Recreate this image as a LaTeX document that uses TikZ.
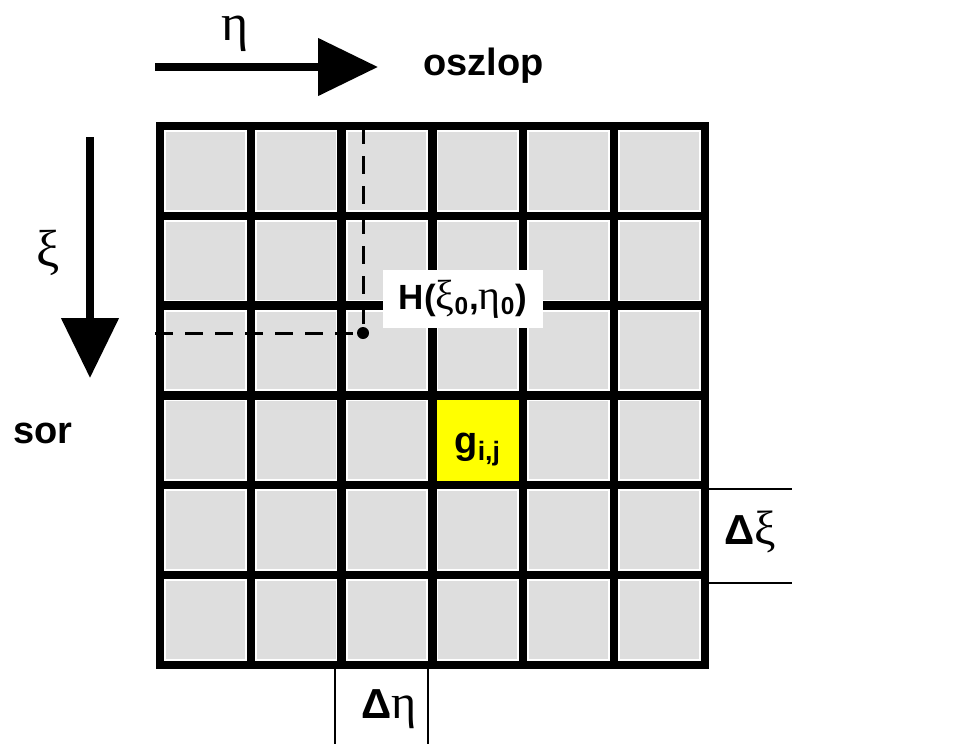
\documentclass[tikz,border=0pt]{standalone}
\usepackage{fontspec}
\setsansfont{Liberation Sans}
\newfontfamily\greekfont{Liberation Serif}
\usetikzlibrary{arrows.meta,positioning}
\definecolor{cellgray}{RGB}{222,222,222}
\definecolor{cellyellow}{RGB}{255,255,0}
\tikzset{x=0.5pt,y=-0.5pt,
  gridline/.style={line width=4.2pt,line cap=rect},
  dimline/.style={line width=0.8pt},
  axisarrow/.style={line width=4pt,-{Triangle[length=30pt,width=28pt]}},
  helpline/.style={line width=1.5pt,dash pattern=on 9pt off 6pt},
  boldlabel/.style={font=\fontsize{19}{22}\selectfont\sffamily\bfseries,inner sep=0pt},
  greeklabel/.style={font=\fontsize{26}{28}\selectfont\greekfont,inner sep=0pt},
  dimlabel/.style={font=\fontsize{21}{24}\selectfont\sffamily\bfseries,inner sep=0pt}}

\begin{document}
\begin{tikzpicture}
    \useasboundingbox (0,0) rectangle (963,744);
    % cells
    \foreach \i in {0,...,5}
      \foreach \j in {0,...,5}
        \fill[cellgray] ({160+90.8*\i+6},{126+89.8*\j+6}) rectangle ({160+90.8*(\i+1)-6},{126+89.8*(\j+1)-6});
    \fill[cellyellow] ({160+90.8*3},{126+89.8*3}) rectangle ({160+90.8*4},{126+89.8*4});
    \node[font=\fontsize{19}{22}\selectfont\sffamily\bfseries,inner sep=0pt] (gij) at ({160+90.8*3.5},{126+89.8*3.6}) {g\textsubscript{i,j}};
    % point H
    \node[circle,fill,inner sep=0pt,minimum size=6pt] (Hpt) at (363,333) {};
    \coordinate (Htop) at (363,126);
    \coordinate (Hleft) at (155,333);
    \draw[helpline] (Htop) -- (Hpt);
    \draw[helpline] (Hleft) -- (Hpt);
    % grid lines
    \foreach \i in {0,...,6}
      \draw[gridline] ({160+90.8*\i},126) -- ({160+90.8*\i},665);
    \foreach \j in {0,...,6}
      \draw[gridline] (160,{126+89.8*\j}) -- (705,{126+89.8*\j});
    \node[fill=white,minimum width=80pt,minimum height=29pt,inner sep=0pt,
          font=\fontsize{17.5}{20}\selectfont\sffamily\bfseries] (Hlabel) at (463,299)
          {H({\mdseries\fontsize{21}{22}\selectfont\greekfont ξ}\textsubscript{0},{\mdseries\fontsize{21}{22}\selectfont\greekfont η}\textsubscript{0})};
    % axes
    \coordinate (etaStart) at (155,67);
    \coordinate (etaEnd) at (378,67);
    \draw[axisarrow] (etaStart) -- (etaEnd);
    \node[greeklabel,anchor=base west] (eta) at (221,40) {η};
    \node[boldlabel,anchor=base west] (oszlop) at (423,75) {oszlop};
    \coordinate (xiStart) at (90,137);
    \coordinate (xiEnd) at (90,378);
    \draw[axisarrow] (xiStart) -- (xiEnd);
    \node[greeklabel,anchor=base west] (xi) at (36,266) {ξ};
    \node[boldlabel,anchor=base west] (sor) at (13,443) {sor};
    % cell sizes
    \coordinate (dxiA) at (705,489);
    \coordinate (dxiB) at (792,489);
    \coordinate (dxiC) at (705,583);
    \coordinate (dxiD) at (792,583);
    \draw[dimline] (dxiA) -- (dxiB);
    \draw[dimline] (dxiC) -- (dxiD);
    \node[dimlabel,anchor=base west] (dxi) at (724,544) {Δ{\mdseries\fontsize{24}{26}\selectfont\greekfont ξ}};
    \coordinate (detaA) at (335,665);
    \coordinate (detaB) at (335,744);
    \coordinate (detaC) at (428,665);
    \coordinate (detaD) at (428,744);
    \draw[dimline] (detaA) -- (detaB);
    \draw[dimline] (detaC) -- (detaD);
    \node[dimlabel,anchor=base west] (deta) at (361,718) {Δ{\mdseries\fontsize{24}{26}\selectfont\greekfont η}};
\end{tikzpicture}
\end{document}
